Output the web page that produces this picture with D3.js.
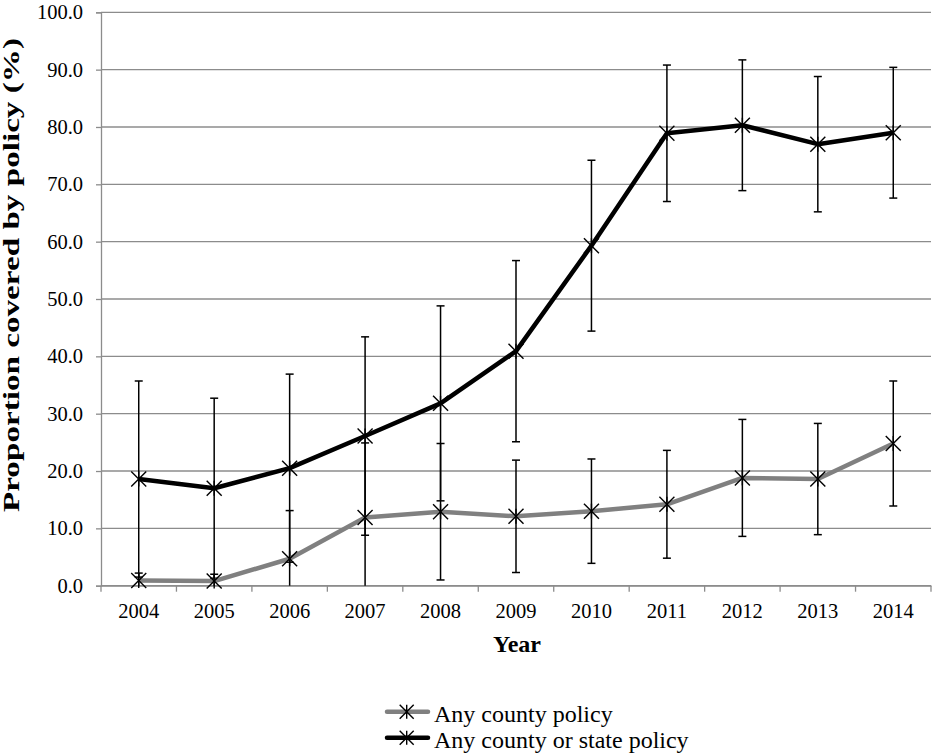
<!DOCTYPE html>
<html><head><meta charset="utf-8">
<script src="https://cdn.jsdelivr.net/npm/d3@7"></script>
<style>body{margin:0;background:#fff}svg{display:block}</style>
</head><body>
<script>
const years = ["2004","2005","2006","2007","2008","2009","2010","2011","2012","2013","2014"];
const countyValues = [0.9, 0.8, 4.7, 11.9, 12.9, 12.1, 13.0, 14.2, 18.8, 18.6, 24.8];
const countyErrors = [1.3, 1.2, 8.4, 13.0, 11.9, 9.8, 9.1, 9.4, 10.2, 9.7, 10.9];
const stateValues = [18.6, 17.0, 20.5, 26.1, 31.8, 40.9, 59.3, 78.9, 80.3, 77.0, 79.0];
const stateErrors = [17.1, 15.7, 16.4, 17.3, 17.0, 15.8, 14.9, 11.9, 11.4, 11.8, 11.4];
const yTicks = [0,10,20,30,40,50,60,70,80,90,100];
const seriesNames = ["Any county policy","Any county or state policy"];
const seriesColors = ["#808080","#000000"];

const W=935,H=756;
const m={left:101,right:931,top:12.3,bottom:585.7};
const svg=d3.select("body").append("svg").attr("width",W).attr("height",H);
const font="'Liberation Serif','Times New Roman',serif";

const x=d3.scaleBand().domain(years).range([m.left,m.right]);
const y=d3.scaleLinear().domain([0,100]).range([m.bottom,m.top]);

// gridlines
svg.append("g").selectAll("line").data(yTicks).join("line")
  .attr("x1",m.left).attr("x2",m.right)
  .attr("y1",d=>y(d)).attr("y2",d=>y(d))
  .attr("stroke","#8c8c8c").attr("stroke-width",1.3);

// y axis
const ya=svg.append("g").attr("transform",`translate(${m.left},0)`)
  .call(d3.axisLeft(y).tickValues(yTicks).tickFormat(d3.format(".1f")).tickSize(5).tickPadding(13));
ya.select(".domain").attr("stroke","#8c8c8c").attr("stroke-width",1.3);
ya.selectAll(".tick line").attr("stroke","#8c8c8c").attr("stroke-width",1.3);
ya.selectAll("text").attr("font-family",font).attr("font-size",20.5).attr("fill","#000");

// x axis
const xa=svg.append("g").attr("transform",`translate(0,${m.bottom})`)
  .call(d3.axisBottom(x).tickSize(0).tickPadding(17.5));
xa.select(".domain").attr("stroke","#8c8c8c").attr("stroke-width",1.3);
xa.selectAll("text").attr("font-family",font).attr("font-size",20.5).attr("fill","#000");
const bounds=years.map(d=>x(d)).concat([m.right]);
xa.append("g").selectAll("line").data(bounds).join("line")
  .attr("x1",d=>d).attr("x2",d=>d).attr("y1",0).attr("y2",6)
  .attr("stroke","#8c8c8c").attr("stroke-width",1.3);

const cx=d=>x(d)+x.bandwidth()/2;

// error bars
function errorBars(vals,errs){
  const g=svg.append("g").attr("stroke","#000").attr("stroke-width",1.5);
  vals.forEach((v,i)=>{
    const hi=v+errs[i], lo=v-errs[i], xc=cx(years[i]);
    const loC=Math.max(0,lo);
    g.append("line").attr("x1",xc).attr("x2",xc).attr("y1",y(hi)).attr("y2",y(loC));
    g.append("line").attr("x1",xc-4).attr("x2",xc+4).attr("y1",y(hi)).attr("y2",y(hi));
    if(lo>=0) g.append("line").attr("x1",xc-4).attr("x2",xc+4).attr("y1",y(lo)).attr("y2",y(lo));
  });
}
errorBars(countyValues,countyErrors);
errorBars(stateValues,stateErrors);

const line=d3.line().x((d,i)=>cx(years[i])).y(d=>y(d));
function series(vals,color){
  svg.append("path").datum(vals).attr("d",line).attr("fill","none")
    .attr("stroke",color).attr("stroke-width",4.5).attr("stroke-linejoin","round");
  const g=svg.append("g").attr("stroke","#000").attr("stroke-width",1.4);
  vals.forEach((v,i)=>{
    const xc=cx(years[i]), yc=y(v), s=7.5;
    g.append("line").attr("x1",xc-s).attr("x2",xc+s).attr("y1",yc-s).attr("y2",yc+s);
    g.append("line").attr("x1",xc-s).attr("x2",xc+s).attr("y1",yc+s).attr("y2",yc-s);
    g.append("line").attr("x1",xc).attr("x2",xc).attr("y1",yc-s).attr("y2",yc+s);
  });
}
series(countyValues,seriesColors[0]);
series(stateValues,seriesColors[1]);

// axis titles
svg.append("text").attr("x",517).attr("y",652).attr("text-anchor","middle")
  .attr("font-family",font).attr("font-weight","bold").attr("font-size",24).text("Year");
svg.append("text").attr("transform",`translate(19,275) rotate(-90)`)
  .attr("text-anchor","middle").attr("font-family",font).attr("font-weight","bold")
  .attr("font-size",23).attr("textLength",474).attr("lengthAdjust","spacingAndGlyphs")
  .text("Proportion covered by policy (%)");

// legend
const lg=svg.append("g");
seriesNames.forEach((n,i)=>{
  const yy=711.7+i*26;
  lg.append("line").attr("x1",387).attr("x2",428).attr("y1",yy).attr("y2",yy)
    .attr("stroke",seriesColors[i]).attr("stroke-width",4.5).attr("stroke-linecap","round");
  const xc=406.7,s=7;
  [[-s,-s,s,s],[-s,s,s,-s],[0,-s,0,s]].forEach(a=>lg.append("line")
    .attr("x1",xc+a[0]).attr("y1",yy+a[1]).attr("x2",xc+a[2]).attr("y2",yy+a[3])
    .attr("stroke","#000").attr("stroke-width",1.4));
  lg.append("text").attr("x",434).attr("y",yy+10).attr("font-family",font)
    .attr("font-size",24).text(n);
});
</script>
</body></html>
